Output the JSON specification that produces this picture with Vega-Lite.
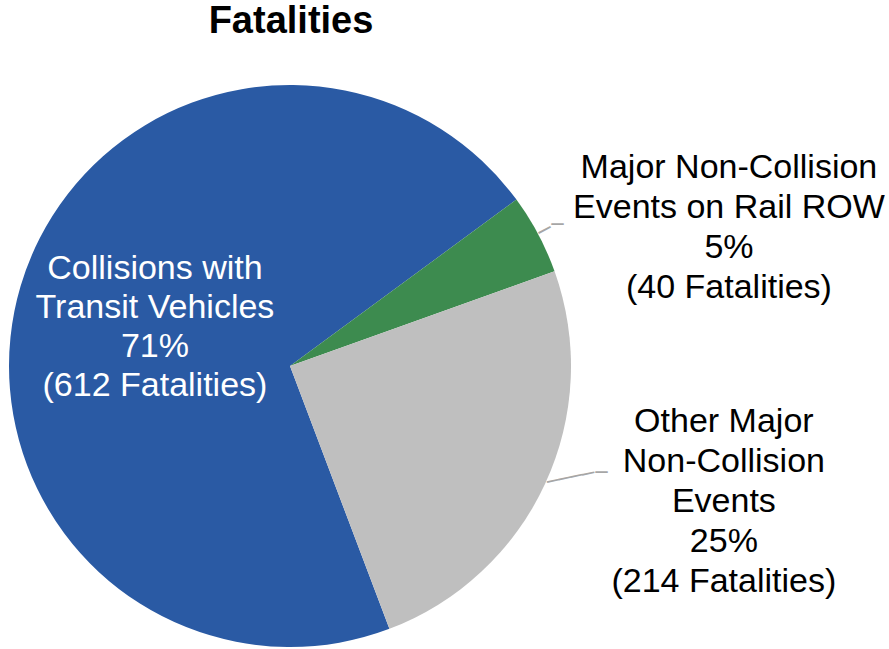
{
  "$schema": "https://vega.github.io/schema/vega-lite/v6.json",
  "width": 562,
  "height": 562,
  "autosize": {"type": "pad"},
  "padding": {"left": 4, "top": 3, "right": 0, "bottom": 0},
  "background": "white",
  "config": {"view": {"stroke": null}},
  "title": {
    "text": "Fatalities",
    "font": "Liberation Sans",
    "fontSize": 38,
    "fontWeight": "bold",
    "color": "#000000",
    "anchor": "middle",
    "offset": 44,
    "dx": 1
  },
  "data": {
    "values": [
      {"category": "Collisions with Transit Vehicles", "fatalities": 612, "label": "Collisions with\nTransit Vehicles\n71%\n(612 Fatalities)"},
      {"category": "Major Non-Collision Events on Rail ROW", "fatalities": 40, "label": "Major Non-Collision\nEvents on Rail ROW\n5%\n(40 Fatalities)"},
      {"category": "Other Major Non-Collision Events", "fatalities": 214, "label": "Other Major\nNon-Collision\nEvents\n25%\n(214 Fatalities)"}
    ]
  },
  "encoding": {
    "theta": {"field": "fatalities", "type": "quantitative", "stack": true, "scale": {"range": [2.780, 9.063]}},
    "order": {"field": "category", "sort": "ascending"},
    "detail": {"field": "category", "type": "nominal"}
  },
  "layer": [
    {
      "mark": {"type": "arc", "radius": 281},
      "encoding": {
        "color": {
          "field": "category",
          "type": "nominal",
          "scale": {
            "domain": ["Collisions with Transit Vehicles", "Major Non-Collision Events on Rail ROW", "Other Major Non-Collision Events"],
            "range": ["#2A5AA4", "#3D8B4F", "#BFBFBF"]
          },
          "legend": null
        }
      }
    },
    {
      "mark": {"type": "text", "radius": 135.6, "dx": -5, "dy": -58.7, "font": "Liberation Sans", "fontSize": 34, "lineHeight": 39, "lineBreak": "\n", "align": "center", "baseline": "middle", "fill": "#FFFFFF"},
      "encoding": {
        "text": {"condition": {"test": "datum.category === 'Collisions with Transit Vehicles'", "field": "label"}, "value": ""}
      }
    },
    {
      "mark": {"type": "text", "radius": 294.4, "dx": 179, "dy": -60, "font": "Liberation Sans", "fontSize": 34, "lineHeight": 40, "lineBreak": "\n", "align": "center", "baseline": "middle", "fill": "#000000"},
      "encoding": {
        "text": {"condition": {"test": "datum.category === 'Major Non-Collision Events on Rail ROW'", "field": "label"}, "value": ""}
      }
    },
    {
      "mark": {"type": "text", "radius": 323.7, "dx": 140, "dy": -80, "font": "Liberation Sans", "fontSize": 34, "lineHeight": 40, "lineBreak": "\n", "align": "center", "baseline": "middle", "fill": "#000000"},
      "encoding": {
        "text": {"condition": {"test": "datum.category === 'Other Major Non-Collision Events'", "field": "label"}, "value": ""}
      }
    },
    {
      "mark": {"type": "text", "radius": 288.6, "angle": 332, "font": "DejaVu Sans", "fontSize": 22, "align": "center", "baseline": "middle", "fill": "#A6A6A6"},
      "encoding": {
        "text": {"condition": {"test": "datum.category === 'Major Non-Collision Events on Rail ROW'", "value": "─"}, "value": ""}
      }
    },
    {
      "mark": {"type": "text", "radius": 300.3, "dx": 2.4, "font": "DejaVu Sans", "fontSize": 20, "align": "center", "baseline": "middle", "fill": "#A6A6A6"},
      "encoding": {
        "text": {"condition": {"test": "datum.category === 'Major Non-Collision Events on Rail ROW'", "value": "─"}, "value": ""}
      }
    },
    {
      "mark": {"type": "text", "radius": 280.2, "dx": 27.0, "angle": 348.2, "font": "DejaVu Sans", "fontSize": 20, "align": "center", "baseline": "middle", "fill": "#A6A6A6"},
      "encoding": {
        "text": {"condition": {"test": "datum.category === 'Other Major Non-Collision Events'", "value": "────"}, "value": ""}
      }
    },
    {
      "mark": {"type": "text", "radius": 255.1, "dx": 79.9, "font": "DejaVu Sans", "fontSize": 20, "align": "center", "baseline": "middle", "fill": "#A6A6A6"},
      "encoding": {
        "text": {"condition": {"test": "datum.category === 'Other Major Non-Collision Events'", "value": "─"}, "value": ""}
      }
    }
  ]
}
